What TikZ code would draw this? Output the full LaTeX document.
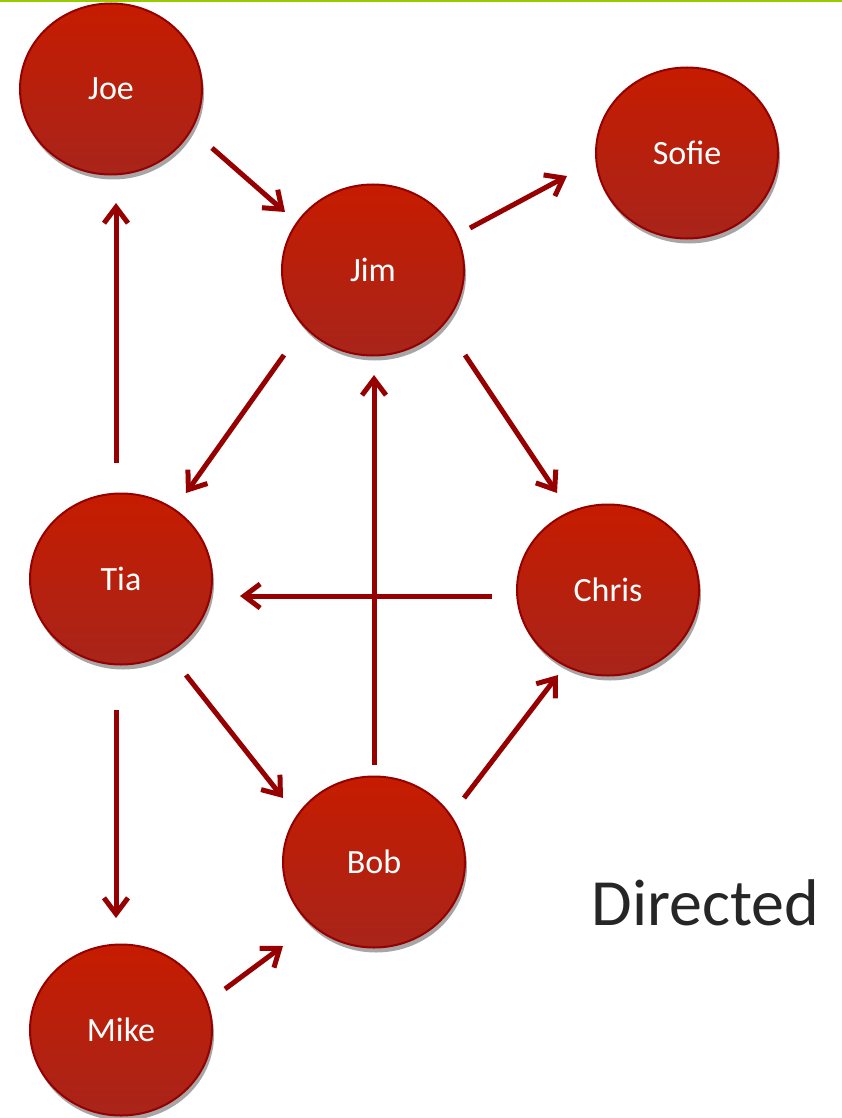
\documentclass[tikz,border=0pt]{standalone}
\usepackage{fontspec}
\setmainfont{Carlito}
\usetikzlibrary{arrows.meta,shadows,shapes.geometric}
\definecolor{topgreen}{RGB}{153,204,0}
\definecolor{nodetop}{RGB}{198,28,0}
\definecolor{nodebottom}{RGB}{168,36,26}
\definecolor{noderim}{RGB}{150,0,0}
\definecolor{edgered}{RGB}{150,0,0}
\definecolor{captiongray}{RGB}{38,38,38}
\tikzset{
  person/.style={ellipse, minimum width=182pt, minimum height=171pt, inner sep=0pt,
    draw=noderim, line width=2pt, top color=nodetop, bottom color=nodebottom,
    drop shadow={shadow xshift=2pt, shadow yshift=-5pt, opacity=0.35, fill=black},
    text=white, font=\fontsize{34}{40}\selectfont},
  link/.style={draw=edgered, line width=5pt,
    -{Straight Barb[length=16pt,width=24pt]}}
}
\begin{document}
\begin{tikzpicture}[x=1pt,y=-1pt]
\useasboundingbox (0,0) rectangle (842,1118);
\fill[white] (0,0) rectangle (842,1118);
\fill[topgreen] (0,0) rectangle (842,2.5);

% people
\node[person] (joe)   at (111,89)  {Joe};
\node[person] (sofie) at (687,153) {Sofie};
\node[person] (jim)   at (373,270) {Jim};
\node[person] (tia)   at (121,579) {Tia};
\node[person] (chris) at (608,590) {Chris};
\node[person] (bob)   at (374,862) {Bob};
\node[person] (mike)  at (121,1030) {Mike};

\node[text=captiongray, font=\fontsize{66}{80}\selectfont, anchor=base west]
  (caption) at (588,925) {Directed};

% directed links, each offset from the node centres
\draw[link] ([shift={(101,59)}]joe.center)   -- ([shift={(-88,-58)}]jim.center);
\draw[link] ([shift={(97,-42)}]jim.center)   -- ([shift={(-120,23)}]sofie.center);
\draw[link] ([shift={(-89,85)}]jim.center)   -- ([shift={(65,-86)}]tia.center);
\draw[link] ([shift={(92,85)}]jim.center)    -- ([shift={(-51,-97)}]chris.center);
\draw[link] ([shift={(-5,-116)}]tia.center)  -- ([shift={(5,114)}]joe.center);
\draw[link] ([shift={(-116,6)}]chris.center) -- ([shift={(119,17)}]tia.center);
\draw[link] ([shift={(0,-97)}]bob.center)    -- ([shift={(1,105)}]jim.center);
\draw[link] ([shift={(65,96)}]tia.center)    -- ([shift={(-91,-64)}]bob.center);
\draw[link] ([shift={(90,-64)}]bob.center)   -- ([shift={(-50,85)}]chris.center);
\draw[link] ([shift={(-5,131)}]tia.center)   -- ([shift={(-5,-112)}]mike.center);
\draw[link] ([shift={(104,-41)}]mike.center) -- ([shift={(-91,84)}]bob.center);
\end{tikzpicture}
\end{document}
